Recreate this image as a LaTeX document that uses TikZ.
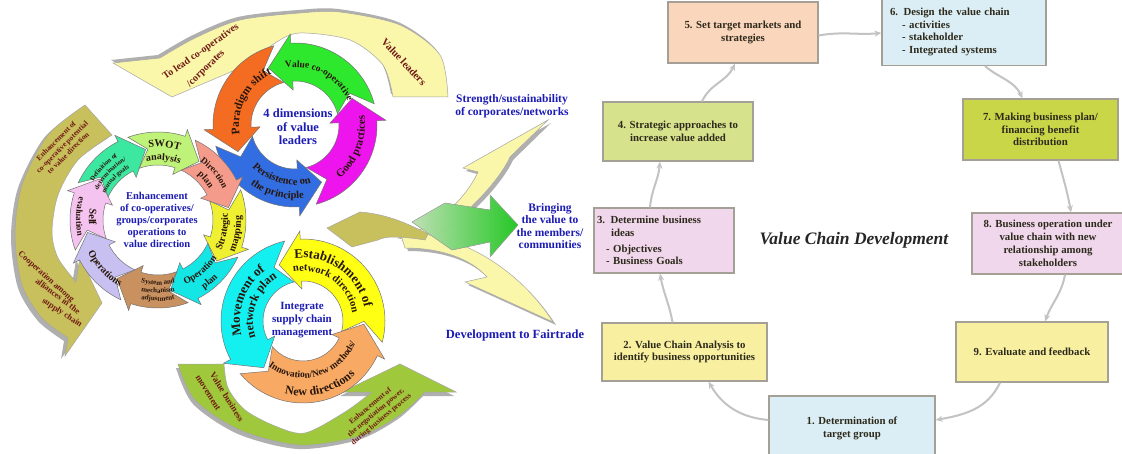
\documentclass[tikz,border=0pt]{standalone}
\usepackage{fontspec}
\setmainfont{Liberation Serif}
\usetikzlibrary{calc,decorations.text,arrows.meta}

% ring colours
\definecolor{rAorange}{RGB}{243,108,33}
\definecolor{rAgreen}{RGB}{45,232,45}
\definecolor{rAmag}{RGB}{238,20,238}
\definecolor{rAblue}{RGB}{50,110,225}
\definecolor{rBpink}{RGB}{245,195,240}
\definecolor{rBgreen}{RGB}{60,232,160}
\definecolor{rBswot}{RGB}{190,242,120}
\definecolor{rBsalmon}{RGB}{245,155,140}
\definecolor{rByellow}{RGB}{240,240,50}
\definecolor{rBcyan}{RGB}{20,230,230}
\definecolor{rBbrown}{RGB}{200,145,95}
\definecolor{rBlav}{RGB}{200,192,240}
\definecolor{rCyellow}{RGB}{255,255,20}
\definecolor{rCcyan}{RGB}{20,240,240}
\definecolor{rCorange}{RGB}{248,170,100}
% big arrows
\definecolor{paleyel}{RGB}{250,246,170}
\definecolor{oliveband}{RGB}{200,192,92}
\definecolor{leaf}{RGB}{160,200,60}
\definecolor{brightgreen}{RGB}{40,215,40}
\definecolor{mintgreen}{RGB}{205,242,195}
\definecolor{shade}{RGB}{175,175,175}
% text
\definecolor{inkblue}{RGB}{28,28,180}
\definecolor{inkred}{RGB}{112,26,20}
\definecolor{inkdark}{RGB}{40,22,12}
% value chain boxes
\definecolor{bxpeach}{RGB}{250,214,188}
\definecolor{bxblue}{RGB}{220,238,245}
\definecolor{bxlime}{RGB}{214,226,140}
\definecolor{bxlimeb}{RGB}{200,214,72}
\definecolor{bxpink}{RGB}{240,215,236}
\definecolor{bxyel}{RGB}{248,240,160}
\definecolor{bxline}{RGB}{165,160,150}
\definecolor{bxtext}{RGB}{45,42,28}
\definecolor{flowgrey}{RGB}{195,195,195}

% one curved arrow of a ring: centre, inner r, outer r, wing, tail angle, head base angle, tip angle, fill
\newcommand\ringseg[8]{%
  \pgfmathsetmacro\sgMid{(#2+#3)/2}%
  \pgfmathsetmacro\sgWo{#3+#4}%
  \pgfmathsetmacro\sgWi{#2-#4}%
  \pgfmathsetmacro\sgNotch{#5+((#7)-(#6))*0.7}%
  \filldraw[segline,fill=#8] ($(#1)+(#5:#3)$) arc[start angle=#5,end angle=#6,radius=#3]
    -- ($(#1)+(#6:\sgWo)$) -- ($(#1)+(#7:\sgMid)$) -- ($(#1)+(#6:\sgWi)$)
    -- ($(#1)+(#6:#2)$) arc[start angle=#6,end angle=#5,radius=#2]
    -- ($(#1)+(\sgNotch:\sgMid)$) -- cycle;}

% text set along an arc: centre, radius, start, end, size, colour, text
\newcommand\ringtext[7]{%
  \path[decorate,decoration={text along path,text align=center,text color=#6,
    text={|\fontsize{#5}{#5}\selectfont\bfseries|#7}}]
    ($(#1)+(#3:#2)$) arc[start angle=#3,end angle=#4,radius=#2];}

% the large background arrows
\newcommand\topband[1]{\filldraw[#1] plot[smooth] coordinates {(448,356) (440,398) (400,428) (340,441) (300,440) (240,433) (195,415) (160,395)}
  -- (113,390) -- (172,356) -- (247,388)
  -- plot[smooth] coordinates {(247,388) (275,410) (300,420) (350,413) (383,388) (393,356)} -- cycle;}
\newcommand\oliveshape[1]{\filldraw[#1] plot[smooth] coordinates {(85,348) (48,318) (22,268) (15,218) (22,168) (42,135) (68,115)}
  -- (65,97) -- (102,150) -- (80,196)
  -- plot[smooth] coordinates {(76,171) (58,195) (52,221) (58,258) (78,293) (112,318)} -- cycle;}
\newcommand\leafshape[1]{\filldraw[#1] plot[smooth] coordinates {(178,89) (195,53) (240,23) (300,8) (360,17) (400,38) (425,61)}
  -- (456,61) -- (400,89) -- (342,61)
  -- plot[smooth] coordinates {(372,61) (345,41) (305,20) (275,27) (245,43) (228,65) (224,89)} -- cycle;}
\newcommand\upswoosh[1]{\filldraw[#1] (420,211) .. controls (460,228) and (500,273) .. (510,296) -- (548,333) -- (463,285)
  -- (478,281) .. controls (465,253) and (435,225) .. (398,215) -- cycle;}
\newcommand\downswoosh[1]{\filldraw[#1] (400,221) .. controls (460,221) and (520,183) .. (553,131) -- (465,171)
  -- (487,176) .. controls (470,195) and (440,205) .. (405,205) -- cycle;}

\begin{document}
\begin{tikzpicture}[x=1pt,y=1pt,
  segline/.style={draw=black!55,line width=0.5pt},
  bigshade/.style={fill=shade,draw=none},
  bigline/.style={draw=black!35,line width=0.5pt},
  bluelabel/.style={text=inkblue,font=\bfseries\fontsize{11.5}{13}\selectfont,align=center,inner sep=0pt},
  armlabel/.style={text=inkred,font=\bfseries\fontsize{10}{11}\selectfont,align=center,inner sep=0pt},
  vbox/.style={draw=bxline,line width=1.2pt,text=bxtext,font=\bfseries\fontsize{10.8}{12.8}\selectfont,align=center,inner sep=2pt},
  flow/.style={draw=flowgrey,line width=2pt,-{Stealth[length=7pt,width=6pt]}},
]
\useasboundingbox (0,0) rectangle (1122,453);
\fill[white] (0,0) rectangle (1122,453);

% ---------- large arrows behind the rings ----------
\topband{bigshade,shift={(-2,3)}}
\topband{bigline,fill=paleyel}
\oliveshape{bigshade,shift={(-4,-3)}}
\oliveshape{bigline,fill=oliveband}
\leafshape{bigshade,shift={(-2,-4)}}
\leafshape{bigline,fill=leaf}

% outgoing arrows
\upswoosh{bigshade,shift={(3,-3)}}
\upswoosh{bigline,fill=paleyel}
\downswoosh{bigshade,shift={(3,-3)}}
\downswoosh{bigline,fill=paleyel}
\filldraw[bigline,left color=mintgreen,right color=brightgreen,opacity=0.92]
  (412,231) -- (445,250) -- (490,243) -- (490,258) -- (518,228) -- (490,196) -- (490,211) -- (452,203) -- cycle;
\filldraw[bigline,fill=oliveband] (327,225) -- (360,241) .. controls (385,239) and (405,231) .. (428,219)
  -- (425,213) .. controls (400,217) and (385,217) .. (378,213) -- (352,206) -- cycle;

% labels on the large arrows
\node[armlabel,rotate=35] (leadA) at (201,401) {To lead co-operatives};
\node[armlabel,rotate=44] (leadB) at (206,384) {/corporates};
\node[armlabel,rotate=-47,font=\bfseries\fontsize{10.5}{12}\selectfont] (leaders) at (404,391) {Value leaders};
\node[armlabel,rotate=45,font=\bfseries\fontsize{7.5}{8.5}\selectfont] (olA) at (62,306) {Enhancement of\\co-operative potential\\to value direction};
\node[armlabel,rotate=-42,font=\bfseries\fontsize{8.5}{9.5}\selectfont] (olB) at (46,176) {Cooperation among};
\node[armlabel,rotate=-37,font=\bfseries\fontsize{8.5}{9.5}\selectfont] (olC) at (58,157) {alliances in the};
\node[armlabel,rotate=-33,font=\bfseries\fontsize{8.5}{9.5}\selectfont] (olD) at (62,140) {supply chain};
\node[armlabel,rotate=-58,font=\bfseries\fontsize{9}{10}\selectfont] (lfA) at (227,56) {Value business};
\node[armlabel,rotate=-58,font=\bfseries\fontsize{9}{10}\selectfont] (lfB) at (208,60) {movement};
\node[armlabel,rotate=40,font=\bfseries\fontsize{7.5}{8.5}\selectfont] (lfC) at (376,40) {Enhancement of\\the negotiation power,\\during business process};

% ---------- ring: 4 dimensions of value leaders ----------
\coordinate (A) at (295,328);
\ringseg{A}{44}{82}{9}{15}{93}{115}{rAgreen}
\ringseg{A}{44}{82}{9}{105}{183}{205}{rAorange}
\ringseg{A}{44}{82}{9}{195}{273}{295}{rAblue}
\ringseg{A}{44}{82}{9}{285}{363}{385}{rAmag}
\ringtext{A}{58}{110}{14}{9.5}{inkdark}{Value co-operative}
\ringtext{A}{56}{212}{92}{11.5}{inkdark}{Paradigm shift}
\ringtext{A}{60}{200}{310}{10.5}{inkdark}{Persistence on}
\ringtext{A}{74}{205}{305}{10.5}{inkdark}{the principle}
\ringtext{A}{70}{-66}{24}{11}{inkdark}{Good practices}
\node[bluelabel,font=\bfseries\fontsize{12.5}{13.5}\selectfont] (Atxt) at (298,326) {4 dimensions\\of value\\leaders};

% ---------- ring: enhancement of operations ----------
\coordinate (B) at (158,233);
\ringseg{B}{55}{88}{7}{200}{162}{145}{rBpink}
\ringseg{B}{55}{88}{7}{155}{117}{100}{rBgreen}
\ringseg{B}{55}{88}{7}{110}{72}{55}{rBswot}
\ringseg{B}{55}{88}{7}{65}{27}{10}{rBsalmon}
\ringseg{B}{55}{88}{7}{20}{-18}{-35}{rByellow}
\ringseg{B}{55}{88}{7}{-25}{-63}{-80}{rBcyan}
\ringseg{B}{55}{88}{7}{-70}{-108}{-125}{rBbrown}
\ringseg{B}{55}{88}{7}{-115}{-153}{-170}{rBlav}
\ringtext{B}{69}{140}{215}{10.5}{inkdark}{Self}
\ringtext{B}{82}{140}{215}{9}{inkdark}{evaluation}
\ringtext{B}{75}{175}{97}{6.5}{inkdark}{Definition of}
\ringtext{B}{67}{175}{97}{6.5}{inkdark}{determination/}
\ringtext{B}{59}{175}{97}{6.5}{inkdark}{mutual goals}
\ringtext{B}{73}{125}{45}{10.5}{inkdark}{SWOT}
\ringtext{B}{60}{125}{45}{10}{inkdark}{analysis}
\ringtext{B}{72}{80}{0}{9}{inkdark}{Direction}
\ringtext{B}{60}{80}{0}{9.5}{inkdark}{plan}
\ringtext{B}{70}{-50}{30}{10}{inkdark}{Strategic}
\ringtext{B}{83}{-50}{30}{10}{inkdark}{mapping}
\ringtext{B}{70}{-90}{-10}{9.5}{inkdark}{Operation}
\ringtext{B}{83}{-90}{-10}{9.5}{inkdark}{plan}
\ringtext{B}{65}{-130}{-50}{7}{inkdark}{System and}
\ringtext{B}{73}{-130}{-50}{7}{inkdark}{mechanism}
\ringtext{B}{81}{-130}{-50}{7}{inkdark}{adjustment}
\ringtext{B}{77}{190}{255}{10}{inkdark}{Operations}
\node[bluelabel,font=\bfseries\fontsize{10.5}{11.8}\selectfont] (Btxt) at (157,233) {Enhancement\\of co-operatives/\\groups/corporates\\operations to\\value direction};

% ---------- ring: integrate supply chain management ----------
\coordinate (C) at (303,132);
\ringseg{C}{40}{82}{8}{-15}{92}{113}{rCyellow}
\ringseg{C}{40}{82}{8}{103}{208}{230}{rCcyan}
\ringseg{C}{40}{82}{8}{220}{335}{357}{rCorange}
\ringtext{C}{63}{120}{-10}{13}{inkdark}{Establishment of}
\ringtext{C}{50}{120}{-10}{10.5}{inkdark}{network direction}
\ringtext{C}{63}{215}{105}{13}{inkdark}{Movement of}
\ringtext{C}{50}{215}{105}{12}{inkdark}{network plan}
\ringtext{C}{57}{215}{355}{9.5}{inkdark}{Innovation/New methods/}
\ringtext{C}{75}{215}{355}{12}{inkdark}{New directions}
\node[bluelabel,font=\bfseries\fontsize{11}{12.8}\selectfont] (Ctxt) at (302,133) {Integrate\\supply chain\\management};

% ---------- outcome labels ----------
\node[bluelabel] (strength) at (512,347) {Strength/sustainability\\of corporates/networks};
\node[bluelabel,font=\bfseries\fontsize{11.5}{12.5}\selectfont] (bringing) at (550,227) {Bringing\\the value to\\the members/\\communities};
\node[bluelabel,font=\bfseries\fontsize{12.5}{13}\selectfont] (fairtrade) at (515,118) {Development to Fairtrade};

% ---------- value chain development cycle ----------
\node[vbox,fill=bxblue,minimum width=166pt,minimum height=64pt] (b1) at (852,25) {1. Determination of\\target group};
\node[vbox,fill=bxyel,minimum width=165pt,minimum height=58pt] (b2) at (684.5,101) {2. Value Chain Analysis to\\identify business opportunities};
\node[vbox,fill=bxpink,minimum width=140pt,minimum height=65pt,text width=134pt,align=left] (b3) at (664,212.5)
  {3. Determine business\\\hspace*{14pt}ideas\\[3pt]\hspace*{9pt}- Objectives\\\hspace*{9pt}- Business Goals};
\node[vbox,fill=bxlime,minimum width=150pt,minimum height=59pt] (b4) at (678,321.5) {4. Strategic approaches to\\increase value added};
\node[vbox,fill=bxpeach,minimum width=150pt,minimum height=61pt] (b5) at (743,420.5) {5. Set target markets and\\strategies};
\node[vbox,fill=bxblue,minimum width=164pt,minimum height=67pt,text width=148pt,align=left] (b6) at (964,421)
  {6. Design the value chain\\\hspace*{12pt}- activities\\\hspace*{12pt}- stakeholder\\\hspace*{12pt}- Integrated systems};
\node[vbox,fill=bxlimeb,minimum width=155pt,minimum height=61pt] (b7) at (1040.5,323.5) {7. Making business plan/\\financing benefit\\distribution};
\node[vbox,fill=bxpink,minimum width=152pt,minimum height=61pt] (b8) at (1048,209.5) {8. Business operation under\\value chain with new\\relationship among\\stakeholders};
\node[vbox,fill=bxyel,minimum width=152pt,minimum height=60pt] (b9) at (1032,101) {9. Evaluate and feedback};
\node[font=\bfseries\itshape\fontsize{17.5}{19}\selectfont,text=black!85] (vcd) at (854,213) {Value Chain Development};

\draw[flow] ([yshift=8pt]b1.west) to[out=175,in=-60] ([xshift=24pt]b2.south);
\draw[flow] ([xshift=-12pt]b2.north) to[out=100,in=-80] ([xshift=-4pt]b3.south);
\draw[flow] ([xshift=-14pt]b3.north) to[out=85,in=-95] ([xshift=-18pt]b4.south);
\draw[flow] ([xshift=24pt]b4.north) to[out=65,in=-115] ([xshift=-8pt]b5.south);
\draw[flow] ([yshift=-3pt]b5.east) to[out=10,in=185] ([yshift=-1pt]b6.west);
\draw[flow] ([xshift=21pt]b6.south) to[out=-40,in=115] ([xshift=-18pt]b7.north);
\draw[flow] ([xshift=18pt]b7.south) to[out=-75,in=100] ([xshift=23pt]b8.north);
\draw[flow] ([xshift=17pt]b8.south) to[out=-100,in=70] ([xshift=13pt]b9.north);
\draw[flow] ([xshift=-32pt]b9.south) to[out=-115,in=10] ([yshift=8pt]b1.east);
\end{tikzpicture}
\end{document}
